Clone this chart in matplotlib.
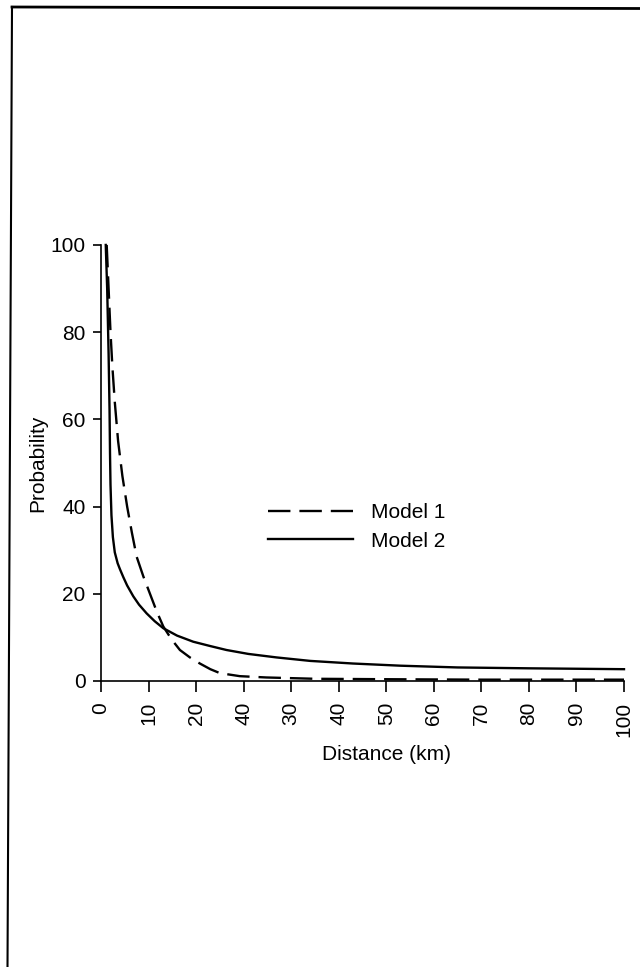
import numpy as np
import matplotlib
matplotlib.use('Agg')
import matplotlib.pyplot as plt
from matplotlib.lines import Line2D

plt.rcParams['font.family'] = ['Liberation Sans', 'DejaVu Sans']

# tick positions and the labels printed under them (as in the original figure)
x_ticks = [0, 10, 20, 30, 40, 50, 60, 70, 80, 90, 100, 110]
x_labels = ['0', '10', '20', '40', '30', '40', '50', '60', '70', '80', '90', '100']
y_ticks = [0, 20, 40, 60, 80, 100]

# Model 1 (dashed)
model1_x = [1.2, 1.6, 2.0, 2.4, 2.9, 3.6, 4.5, 5.5, 6.5, 7.5, 8.9, 10.3,
            11.7, 13.1, 14.8, 16.6, 18.7, 20.8, 23.0, 25.0, 29.2, 34.8,
            45, 60, 80, 110]
model1_y = [100, 90, 80, 72, 64, 55, 47, 40, 34, 28.5, 24, 20,
            16, 12.5, 9.6, 7.1, 5.4, 4.0, 2.7, 1.8, 1.1, 0.8,
            0.5, 0.4, 0.3, 0.3]

# Model 2 (solid)
model2_x = [1.0, 1.3, 1.6, 1.8, 1.9, 2.0, 2.2, 2.5, 2.9, 3.5, 4.0, 4.7,
            5.5, 6.8, 8.0, 9.6, 11.3, 13.1, 16.0, 19.4, 23.0, 26.4,
            31.0, 36.9, 44, 53, 63, 75, 90, 110]
model2_y = [100, 90, 75, 62, 52, 45, 38, 33, 29.5, 27.0, 25.6, 23.8,
            21.9, 19.4, 17.5, 15.5, 13.7, 12.1, 10.4, 9.0, 8.0, 7.1,
            6.2, 5.4, 4.6, 4.0, 3.5, 3.1, 2.9, 2.7]

fig = plt.figure(figsize=(6.4, 9.67), dpi=100)
ax = fig.add_axes([0.1578, 0.2958, 0.8172, 0.4509])

ax.plot(model1_x, model1_y, color='black', lw=1.7, dashes=(9.5, 3.8),
        label='Model 1', clip_on=False)
ax.plot(model2_x, model2_y, color='black', lw=1.7, label='Model 2',
        clip_on=False)

ax.set_xlim(0, 110)
ax.set_ylim(0, 100)
ax.set_xticks(x_ticks)
ax.set_xticklabels(x_labels, rotation=90)
ax.set_yticks(y_ticks)

for s in ['top', 'right']:
    ax.spines[s].set_visible(False)
for s in ['left', 'bottom']:
    ax.spines[s].set_linewidth(1.2)

ax.tick_params(axis='x', length=8, width=1.2, pad=7, labelsize=15)
ax.tick_params(axis='y', length=6, width=1.2, pad=5, labelsize=15)

ax.set_xlabel('Distance (km)', fontsize=15)
ax.xaxis.set_label_coords(0.545, -0.147)
ax.set_ylabel('Probability', fontsize=15)
ax.yaxis.set_label_coords(-0.103, 0.5)

ax.legend(loc='center left', bbox_to_anchor=(0.319, 0.353), frameon=False,
          fontsize=15, handlelength=4.1, handletextpad=0.87, labelspacing=0.45,
          borderpad=0, borderaxespad=0)

# page border from the scan
fig.add_artist(Line2D([12 / 640, 7.5 / 640], [1 - 7 / 967, 0], color='black', lw=1.5))
fig.add_artist(Line2D([12 / 640, 1], [1 - 7 / 967, 1 - 8.5 / 967], color='black', lw=2))

fig.savefig('out.png', dpi=100)
